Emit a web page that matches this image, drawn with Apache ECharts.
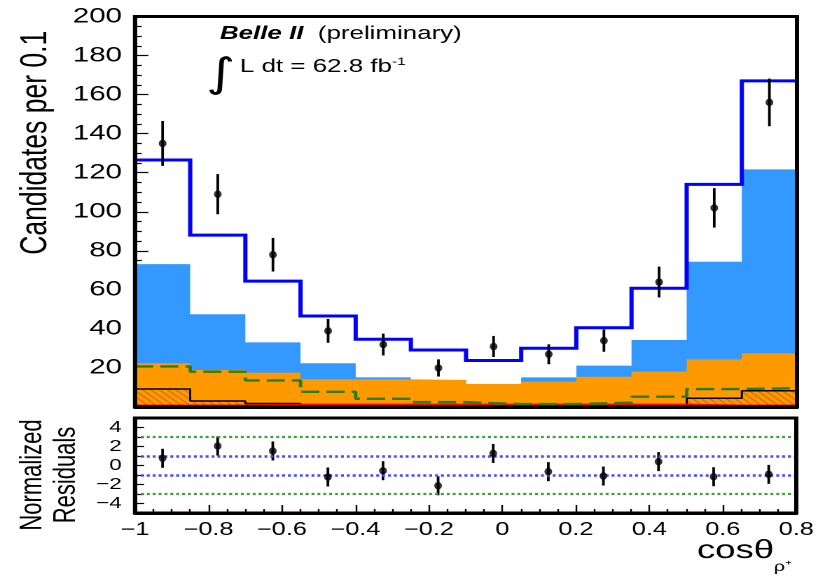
<!DOCTYPE html>
<html>
<head>
<meta charset="utf-8">
<script src="https://cdn.jsdelivr.net/npm/echarts@6/dist/echarts.min.js"></script>
<style>
  html, body { margin: 0; padding: 0; width: 818px; height: 577px; overflow: hidden; background: #fff; }
  /* the figure is laid out narrow and widened horizontally, like the original plot export */
  #chart { width: 584px; height: 577px; transform: scaleX(1.40068); transform-origin: 0 0; }
</style>
</head>
<body>
<div id="chart"></div>
<script>
// Bin edges of cos(theta_rho+) (12 bins of width 0.15)
const binEdges = [-1, -0.85, -0.7, -0.55, -0.4, -0.25, -0.1, 0.05, 0.2, 0.35, 0.5, 0.65, 0.8];

// Fit model, per bin (top of each drawn histogram)
const fitTotal    = [126.5, 88, 64.5, 46.6, 34.7, 29.2, 23.8, 30.1, 40.6, 60.8, 114, 167];
const compBlue    = [73.2, 47.5, 33.1, 22.4, 15.2, 13.8, 11.8, 15.2, 21.2, 34.3, 74.4, 121.7];
const compOrange  = [22.4, 19, 17.6, 14.2, 14.2, 13.8, 11.8, 13, 15.5, 18.1, 24.4, 27.5];
const compGreen   = [20.8, 18.1, 13.6, 7.8, 4.2, 2.5, 1.5, 1.5, 2.2, 5.3, 9.2, 9.6];
const compBlack   = [9.2, 3.1, 1.8, 0.6, 0.6, 0.6, 0.6, 0.6, 0.6, 0.6, 4.5, 8.3];
const compRed     = [0.8, 0.8, 1.2, 1.2, 1.2, 1.2, 1.2, 1.2, 1.2, 1.2, 0.8, 0.8];

// Data: candidates per bin with uncertainties
const dataCounts  = [135, 109, 78, 39, 32, 20, 31, 27, 34, 64, 102, 156];
const dataErrors  = [11.5, 10.3, 8.6, 6.1, 5.6, 4.4, 5.4, 5.1, 5.7, 7.9, 10.1, 12.2];

// Normalized residuals
const residuals      = [0.76, 2.05, 1.53, -1.21, -0.55, -2.13, 1.27, -0.65, -1.11, 0.41, -1.18, -0.93];
const residualErrors = [1, 1, 1, 1, 1, 1, 1, 1, 1, 1, 1, 1];
const innerGuides = [1, -1];
const outerGuides = [3, -3];

const FONT = '"Liberation Sans", Arial, Helvetica, sans-serif';
const binCenters = binEdges.slice(0, -1).map((e, i) => (e + binEdges[i + 1]) / 2);

// histogram outline as step points: one point per left edge, plus the closing right edge
function toStep(values) {
  const pts = values.map((v, i) => [binEdges[i], v]);
  pts.push([binEdges[binEdges.length - 1], values[values.length - 1]]);
  return pts;
}
const minus = v => String(v).replace('-', '\u2212');

function hatch() {
  const c = document.createElement('canvas');
  c.width = 6; c.height = 6;
  const g = c.getContext('2d');
  g.strokeStyle = '#b45a00';
  g.lineWidth = 1;
  g.beginPath();
  g.moveTo(0, 0); g.lineTo(6, 6);
  g.moveTo(-1, 5); g.lineTo(1, 7);
  g.moveTo(5, -1); g.lineTo(7, 1);
  g.stroke();
  return c;
}

function errorBar(params, api) {
  const x = api.value(0), y = api.value(1), e = api.value(2);
  const a = api.coord([x, y + e]);
  const b = api.coord([x, y - e]);
  return {
    type: 'line',
    shape: { x1: a[0], y1: a[1], x2: b[0], y2: b[1] },
    style: { stroke: '#000', lineWidth: 1.9 }
  };
}

function stepSeries(values, extra) {
  return Object.assign({
    type: 'line', xAxisIndex: 0, yAxisIndex: 0, step: 'end',
    data: toStep(values), symbol: 'none', silent: true
  }, extra);
}

const GRID_LEFT = 96.4, GRID_RIGHT = 15, CHART_W = 584;
const PLOT_W = CHART_W - GRID_LEFT - GRID_RIGHT;
const RES_H = 95;

const frameLine = { show: true, onZero: false, lineStyle: { color: '#000', width: 3 } };
const tickStyle = { color: '#000', width: 1.2 };
const noLine = { show: false, onZero: false };

// tick-only companion axes sit on the frame edge from the opposite side,
// so their outward ticks point into the plotting area
function tickAxis(base, extra) {
  return Object.assign({
    type: 'value', z: 1, axisLine: noLine, axisLabel: { show: false }, splitLine: { show: false }
  }, base, extra);
}

const chart = echarts.init(document.getElementById('chart'), null, { renderer: 'canvas', devicePixelRatio: 2 });

chart.setOption({
  animation: false,
  backgroundColor: '#fff',
  textStyle: { fontFamily: FONT, color: '#000' },
  grid: [
    { left: GRID_LEFT, right: GRID_RIGHT, top: 16.5, height: 390.5, show: true, backgroundColor: 'transparent', borderColor: '#000', borderWidth: 3, z: 10 },
    { left: GRID_LEFT, right: GRID_RIGHT, top: 418, height: RES_H, show: true, backgroundColor: 'transparent', borderColor: '#000', borderWidth: 3, z: 10 }
  ],
  xAxis: [
    {
      type: 'value', gridIndex: 0, min: -1, max: 0.8, interval: 0.2, z: 1,
      axisLine: frameLine, axisTick: { show: false }, axisLabel: { show: false }, splitLine: { show: false }
    },
    {
      type: 'value', gridIndex: 1, min: -1, max: 0.8, interval: 0.2, z: 1,
      axisLine: frameLine,
      axisTick: { show: false },
      axisLabel: { fontSize: 18, margin: 8, color: '#000', fontFamily: FONT, formatter: v => minus(v) },
      splitLine: { show: false },
      name: '{a|cos\u03b8}{b|\u03c1\u207a}',
      nameLocation: 'end', nameGap: 0, nameMoveOverlap: false,
      nameTextStyle: {
        align: 'right', verticalAlign: 'top', padding: [25, 3, 0, 0],
        rich: {
          a: { fontSize: 26, lineHeight: 30, verticalAlign: 'top', fontFamily: FONT, color: '#000' },
          b: { fontSize: 14, lineHeight: 14, padding: [22, 0, 0, 0], verticalAlign: 'top', fontFamily: FONT, color: '#000' }
        }
      }
    },
    tickAxis({ gridIndex: 1, min: -1, max: 0.8, interval: 0.2 }, {
      position: 'top', offset: -RES_H,
      axisTick: { show: true, length: 8, lineStyle: tickStyle },
      minorTick: { show: true, splitNumber: 4, length: 4, lineStyle: tickStyle }
    })
  ],
  yAxis: [
    {
      type: 'value', gridIndex: 0, min: 0, max: 200, interval: 20, z: 1,
      axisLine: frameLine,
      axisTick: { show: false },
      axisLabel: { fontSize: 21, margin: 9.3, color: '#000', fontFamily: FONT, formatter: v => (v === 0 ? '' : String(v)) },
      splitLine: { show: false },
      name: 'Candidates per 0.1',
      nameLocation: 'middle', nameRotate: 90, nameGap: 57, nameMoveOverlap: false,
      nameTextStyle: { fontSize: 26.5, lineHeight: 27, color: '#000', fontFamily: FONT, padding: [0, 0, 0, 138] }
    },
    {
      type: 'value', gridIndex: 1, min: -5, max: 5, interval: 1, z: 1,
      axisLine: frameLine,
      axisTick: { show: false },
      axisLabel: {
        fontSize: 16, margin: 9.5, color: '#000', fontFamily: FONT,
        formatter: v => (v % 2 === 0 && Math.abs(v) < 5 ? minus(v) : '')
      },
      splitLine: { show: false },
      name: 'Normalized\nResiduals',
      nameLocation: 'middle', nameRotate: 90, nameGap: 37, nameMoveOverlap: false,
      nameTextStyle: { fontSize: 22, lineHeight: 24, color: '#000', fontFamily: FONT, padding: [0, 19, 0, 0] }
    },
    tickAxis({ gridIndex: 0, min: 0, max: 200, interval: 20 }, {
      position: 'right', offset: -PLOT_W,
      axisTick: { show: true, length: 9.5, lineStyle: tickStyle },
      minorTick: { show: true, splitNumber: 4, length: 4.8, lineStyle: tickStyle }
    }),
    tickAxis({ gridIndex: 1, min: -5, max: 5, interval: 1 }, {
      position: 'right', offset: -PLOT_W,
      axisTick: { show: true, length: 7, lineStyle: tickStyle }
    })
  ],
  graphic: [
    {
      type: 'text', x: 157, y: 34, silent: true,
      style: {
        text: '{b|Belle II}{n|  (preliminary)}',
        align: 'left', verticalAlign: 'middle',
        rich: {
          b: { fontSize: 18.5, fontWeight: 'bold', fontStyle: 'italic', fontFamily: FONT, fill: '#000' },
          n: { fontSize: 18.5, fontFamily: FONT, fill: '#000' }
        }
      }
    },
    {
      type: 'text', x: 157.5, y: 76, silent: true,
      style: { text: '\u222b', fontSize: 40, fontFamily: '"DejaVu Sans", sans-serif', fill: '#000', align: 'center', verticalAlign: 'middle' }
    },
    {
      type: 'text', x: 171.3, y: 66.7, silent: true,
      style: {
        text: '{n|L dt = 62.8 fb}{s|-1}',
        align: 'left', verticalAlign: 'middle',
        rich: {
          n: { fontSize: 18.5, lineHeight: 20, fontFamily: FONT, fill: '#000' },
          s: { fontSize: 11, lineHeight: 11, verticalAlign: 'top', fontFamily: FONT, fill: '#000' }
        }
      }
    }
  ],
  series: [
    stepSeries(compBlue,   { lineStyle: { width: 0 }, areaStyle: { color: '#3399ff', opacity: 1 }, z: 2 }),
    stepSeries(compOrange, { lineStyle: { width: 0 }, areaStyle: { color: '#ff9900', opacity: 1 }, z: 2 }),
    stepSeries(compBlack,  { lineStyle: { width: 1.5, color: '#000' }, areaStyle: { color: { image: hatch(), repeat: 'repeat' }, opacity: 1 }, z: 2 }),
    stepSeries(compRed,    { lineStyle: { width: 2, color: '#ff0000' }, z: 2 }),
    stepSeries(compGreen,  { lineStyle: { width: 2.4, color: '#2a7d1c', type: [13, 5] }, z: 2 }),
    stepSeries(fitTotal,   { lineStyle: { width: 3, color: '#0000ff', join: 'miter' }, z: 3 }),
    {
      type: 'custom', xAxisIndex: 0, yAxisIndex: 0, silent: true, z: 4,
      data: dataCounts.map((v, i) => [binCenters[i], v, dataErrors[i]]),
      encode: { x: 0, y: 1 }, renderItem: errorBar
    },
    {
      type: 'scatter', xAxisIndex: 0, yAxisIndex: 0, silent: true, z: 5,
      symbol: 'circle', symbolSize: [5.5, 7.5], itemStyle: { color: '#000' },
      data: dataCounts.map((v, i) => [binCenters[i], v])
    },
    {
      type: 'custom', xAxisIndex: 1, yAxisIndex: 1, silent: true, z: 4,
      data: residuals.map((v, i) => [binCenters[i], v, residualErrors[i]]),
      encode: { x: 0, y: 1 }, renderItem: errorBar,
      markLine: {
        silent: true, symbol: 'none', label: { show: false },
        data: innerGuides.map(v => ({ yAxis: v, lineStyle: { color: '#4a4aff', width: 2.6, type: [2.1, 2.1] } }))
          .concat(outerGuides.map(v => ({ yAxis: v, lineStyle: { color: '#3f9f3f', width: 2.2, type: [2.1, 2.1] } })))
      }
    },
    {
      type: 'scatter', xAxisIndex: 1, yAxisIndex: 1, silent: true, z: 5,
      symbol: 'circle', symbolSize: [5.5, 7.5], itemStyle: { color: '#000' },
      data: residuals.map((v, i) => [binCenters[i], v])
    }
  ]
});
</script>
</body>
</html>
